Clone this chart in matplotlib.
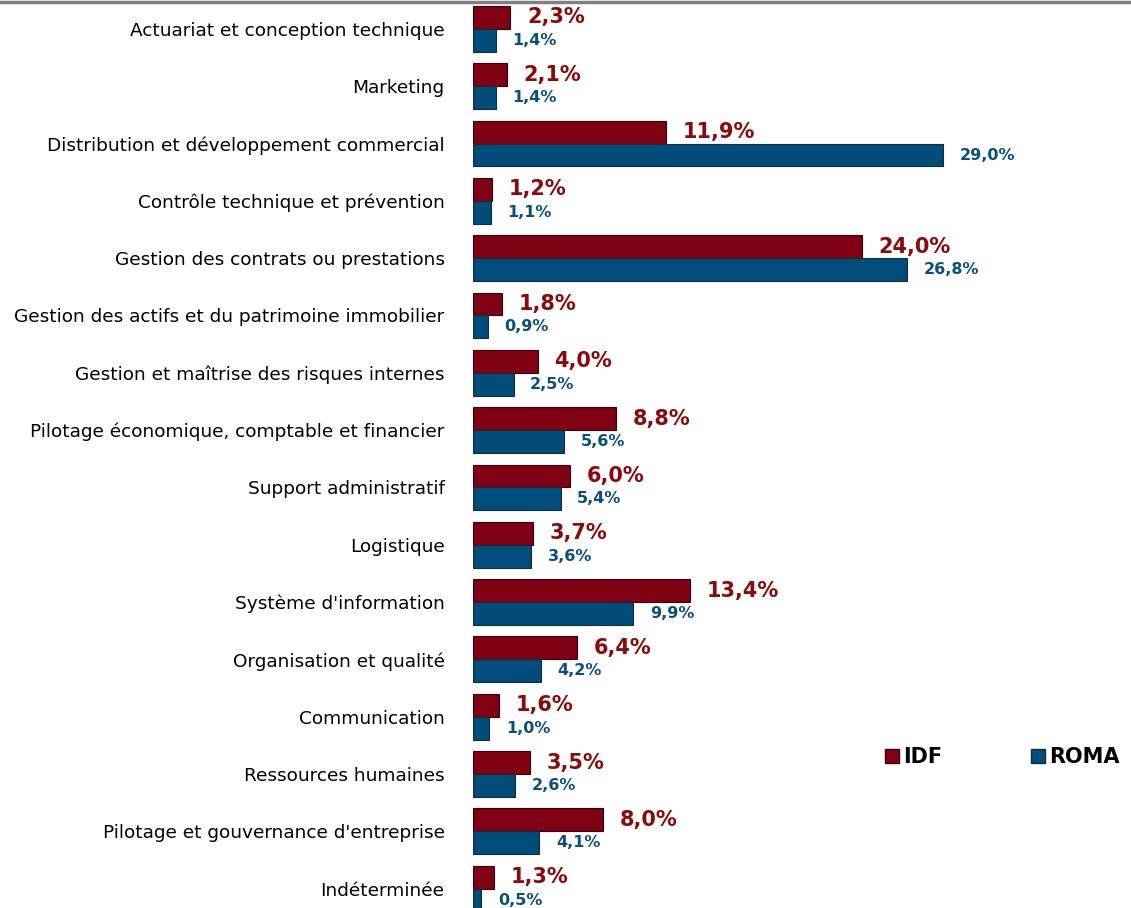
import matplotlib
matplotlib.use("Agg")
import matplotlib.pyplot as plt
from matplotlib.lines import Line2D
from matplotlib.patches import Patch
import numpy as np

# categories (top to bottom) and shares in %
categories = [
    "Actuariat et conception technique",
    "Marketing",
    "Distribution et développement commercial",
    "Contrôle technique et prévention",
    "Gestion des contrats ou prestations",
    "Gestion des actifs et du patrimoine immobilier",
    "Gestion et maîtrise des risques internes",
    "Pilotage économique, comptable et financier",
    "Support administratif",
    "Logistique",
    "Système d'information",
    "Organisation et qualité",
    "Communication",
    "Ressources humaines",
    "Pilotage et gouvernance d'entreprise",
    "Indéterminée",
]
idf = [2.3, 2.1, 11.9, 1.2, 24.0, 1.8, 4.0, 8.8, 6.0, 3.7, 13.4, 6.4, 1.6, 3.5, 8.0, 1.3]
roma = [1.4, 1.4, 29.0, 1.1, 26.8, 0.9, 2.5, 5.6, 5.4, 3.6, 9.9, 4.2, 1.0, 2.6, 4.1, 0.5]

c_idf = "#800014"
c_roma = "#004C7A"
t_idf = "#8B0A0A"
t_roma = "#0B4F7C"

fig = plt.figure(figsize=(11.31, 9.08), dpi=100)
# axes runs a bit below the picture, like the original crop
ax = fig.add_axes([473 / 1131, (908 - 919) / 908, 1 - 473 / 1131, 917 / 908])

y = np.arange(len(categories))
h = 0.4
ax.barh(y - 0.2, idf, height=h, color=c_idf, edgecolor="#3a0008", linewidth=0.8)
ax.barh(y + 0.2, roma, height=h, color=c_roma, edgecolor="#1a2a35", linewidth=0.8)

fmt = lambda v: f"{v:.1f}%".replace(".", ",")
for yi, v in zip(y, idf):
    ax.annotate(fmt(v), (v, yi - 0.2), xytext=(12, 0), textcoords="offset points",
                va="center", ha="left", fontsize=15, fontweight="bold", color=t_idf)
for yi, v in zip(y, roma):
    ax.annotate(fmt(v), (v, yi + 0.2), xytext=(12, 0), textcoords="offset points",
                va="center", ha="left", fontsize=11.5, fontweight="bold", color=t_roma)

ax.set_xlim(0, 40.6)
ax.set_ylim(15.53, -0.47)
ax.set_yticks(y)
ax.set_yticklabels(categories, fontsize=13.3)
ax.tick_params(axis="y", length=0, pad=20.5)
ax.set_xticks([])
for s in ax.spines.values():
    s.set_visible(False)

# thin gray rule along the top of the picture
fig.add_artist(Line2D([0, 1], [1 - 1.5 / 908, 1 - 1.5 / 908], color="#808080", linewidth=2.5))

handles = [Patch(facecolor=c_idf, edgecolor="#3a0008", label="IDF"),
           Patch(facecolor=c_roma, edgecolor="#1a2a35", label="ROMA")]
fig.legend(handles=handles, ncol=2, frameon=False, loc="center left",
           bbox_to_anchor=(885 / 1131, 1 - 757 / 908), borderaxespad=0, borderpad=0,
           prop={"size": 15, "weight": "bold"}, handlelength=0.65, handleheight=0.65,
           handletextpad=0.2, columnspacing=4.3)

fig.savefig("out.png", dpi=100)
